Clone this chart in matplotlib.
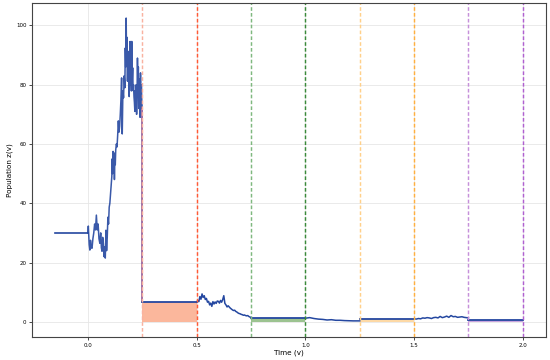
import numpy as np
import matplotlib.pyplot as plt

# initial constant history before t=0
t_hist = [-0.15, 0.0]
z_hist = [30, 30]

# noisy growth phase 0 -> 0.25
t_grow = [0.0, 0.002, 0.006, 0.009, 0.012, 0.015, 0.019, 0.023, 0.027, 0.031,
          0.035, 0.039, 0.043, 0.047, 0.051, 0.055, 0.059, 0.062, 0.065, 0.068,
          0.071, 0.074, 0.077, 0.080, 0.083, 0.086, 0.089, 0.092, 0.095, 0.098,
          0.101, 0.104, 0.107, 0.110, 0.112, 0.114, 0.116, 0.118, 0.120, 0.122,
          0.124, 0.126, 0.128, 0.131, 0.134, 0.137, 0.140, 0.143, 0.146, 0.149,
          0.152, 0.155, 0.158, 0.161, 0.164, 0.167, 0.170, 0.172, 0.174, 0.176,
          0.178, 0.180, 0.182, 0.184, 0.186, 0.188, 0.190, 0.192, 0.194, 0.196,
          0.198, 0.200, 0.202, 0.204, 0.206, 0.208, 0.210, 0.212, 0.214, 0.216,
          0.218, 0.220, 0.222, 0.224, 0.226, 0.228, 0.230, 0.232, 0.234, 0.236,
          0.238, 0.240, 0.242, 0.244, 0.246, 0.248, 0.250]
z_grow = [30, 32.3, 26, 24.2, 27.5, 25, 24.8, 28, 30, 33,
          31, 36, 31, 33, 28, 26.5, 30, 25, 23.8, 28.5,
          26.5, 22, 25.3, 21.5, 30.9, 24, 28.5, 35.3, 33, 38.7,
          40, 43, 46, 49, 55, 50, 57.5, 52, 57, 48,
          55, 53, 58, 60, 59, 63, 67.8, 64, 66, 70,
          75, 82.3, 63.4, 78, 75.6, 83, 79, 92.4, 86, 102.5,
          88, 96, 81.2, 91.3, 84, 88, 76, 87, 94.6, 80,
          85, 77.9, 94.6, 82, 85.7, 78, 80, 76, 74, 71,
          78, 73, 80, 70, 76, 89, 79, 86, 72, 82,
          75, 69, 84, 72, 80, 74, 72]

# noisy phase 0.5 -> 0.75
t_mid1 = [0.5, 0.505, 0.51, 0.515, 0.52, 0.525, 0.53, 0.535, 0.54, 0.545,
          0.55, 0.555, 0.56, 0.565, 0.57, 0.575, 0.58, 0.585, 0.59, 0.595,
          0.60, 0.605, 0.61, 0.615, 0.62, 0.625, 0.63, 0.635, 0.64, 0.645,
          0.65, 0.655, 0.66, 0.665, 0.67, 0.675, 0.68, 0.685, 0.69, 0.695,
          0.70, 0.705, 0.71, 0.715, 0.72, 0.725, 0.73, 0.735, 0.74, 0.745, 0.75]
z_mid1 = [6.6, 7.2, 6.8, 8.5, 7.6, 9.4, 8.2, 8.8, 7.5, 7.9,
          6.6, 6.9, 5.7, 6.3, 5.2, 6.8, 6.0, 6.7, 6.2, 7.0,
          6.9, 6.3, 7.2, 6.6, 7.5, 8.8, 6.2, 5.7, 5.0, 5.4,
          5.0, 4.6, 4.3, 4.0, 3.8, 3.9, 3.5, 3.3, 3.0, 2.8,
          2.7, 2.5, 2.4, 2.2, 2.3, 2.1, 2.0, 2.1, 1.8, 1.6, 1.5]

# decline phase 1.0 -> 1.25
t_mid2 = [1.0, 1.02, 1.04, 1.06, 1.08, 1.10, 1.12, 1.14, 1.16, 1.18,
          1.20, 1.22, 1.24, 1.25]
z_mid2 = [1.2, 1.4, 1.1, 0.9, 0.8, 0.6, 0.7, 0.5, 0.5, 0.4,
          0.35, 0.3, 0.3, 0.3]

# wiggle phase 1.5 -> 1.75
t_mid3 = [1.5, 1.51, 1.52, 1.53, 1.54, 1.55, 1.56, 1.57, 1.58, 1.59,
          1.60, 1.61, 1.62, 1.63, 1.64, 1.65, 1.66, 1.67, 1.68, 1.69,
          1.70, 1.71, 1.72, 1.73, 1.74, 1.75]
z_mid3 = [1.0, 0.9, 1.1, 1.0, 1.3, 1.2, 1.4, 1.3, 1.1, 1.4,
          1.5, 1.3, 1.8, 1.4, 1.6, 1.9, 1.5, 2.1, 1.7, 1.8,
          1.5, 1.6, 1.7, 1.5, 1.4, 1.3]

# constant intervals (start, end, level, colours)
iv_start = [0.25, 0.75, 1.25, 1.75]
iv_end = [0.5, 1.0, 1.5, 2.0]
iv_level = [6.6, 1.2, 1.05, 0.5]
iv_c_start = ['#f9b2a0', '#7fb87f', '#ffd08a', '#c690da']
iv_c_end = ['#ff5a36', '#3a8a3a', '#ffb040', '#b060d0']
iv_fill = ['#fbb79c', '#9cc390', '#fdd9a6', '#c9a6df']

line_color = '#2447a0'

fig, ax = plt.subplots(figsize=(5.5, 3.6), dpi=100)

ax.plot(t_hist, z_hist, color=line_color, lw=1.2)
ax.plot(t_grow, z_grow, color=line_color, lw=1.1, alpha=0.9)
ax.plot([0.25, 0.25], [z_grow[-1], iv_level[0]], color='#8a4a8a', lw=1.1)
ax.plot(t_mid1, z_mid1, color=line_color, lw=1.1)
ax.plot(t_mid2, z_mid2, color=line_color, lw=1.1)
ax.plot(t_mid3, z_mid3, color=line_color, lw=1.1)

for s, e, lv, cs, ce, fc in zip(iv_start, iv_end, iv_level, iv_c_start, iv_c_end, iv_fill):
    ax.fill_between([s, e], 0, lv, color=fc, lw=0)
    ax.plot([s, e], [lv, lv], color=line_color, lw=1.3)
    ax.axvline(s, color=cs, ls='--', lw=1.05, dashes=(2.5, 1.5))
    ax.axvline(e, color=ce, ls='--', lw=1.05, dashes=(2.5, 1.5))

ax.set_xlabel("Time (v)", fontsize=5.2, labelpad=1.5)
ax.set_ylabel("Population z(v)", fontsize=5.2, labelpad=2)
ax.tick_params(labelsize=4.0, length=2, width=0.5, pad=2)
ax.set_xticks([0.0, 0.5, 1.0, 1.5, 2.0])
ax.grid(True, color='#e6e6e6', lw=0.6)
ax.set_axisbelow(True)
for sp in ax.spines.values():
    sp.set_color('#444444')
    sp.set_linewidth(0.8)

plt.subplots_adjust(left=0.058, right=0.993, top=0.992, bottom=0.064)
plt.savefig("out.png", dpi=100)
